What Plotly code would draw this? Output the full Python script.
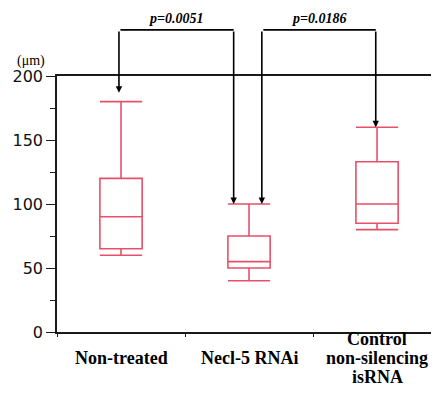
import plotly.graph_objects as go

# ---- data ----
categories = ["Non-treated", "Necl-5 RNAi", "Control non-silencing isRNA"]
category_label_lines = [["Non-treated"], ["Necl-5 RNAi"], ["Control", "non-silencing", "isRNA"]]
lower_whisker = [60, 40, 80]
q1 = [65, 50, 85]
median = [90, 55, 100]
q3 = [120, 75, 133]
upper_whisker = [180, 100, 160]
y_tick_values = [0, 50, 100, 150, 200]
y_max = 200
y_unit = "(μm)"
p_labels = ["p=0.0051", "p=0.0186"]
# comparisons: (left category index, right category index)
comparisons = [(0, 1), (1, 2)]
# arrow tips (value on y axis) for each bracket end
bracket_tips = [(187, 100), (100, 160)]
bracket_top = 236

BOX_COLOR = "#e8506a"
AXIS_COLOR = "#1a1a1a"

fig = go.Figure()
fig.add_trace(go.Box(
    x=categories,
    q1=q1, median=median, q3=q3,
    lowerfence=lower_whisker, upperfence=upper_whisker,
    boxpoints=False,
    width=0.33,
    whiskerwidth=1,
    line=dict(color=BOX_COLOR, width=1.6),
    fillcolor="rgba(255,255,255,0)",
    showlegend=False,
    hoverinfo="skip",
))

annotations = []
top_paper = bracket_top / y_max
# bracket x offsets relative to category centres
offsets = [(-0.016, -0.12), (0.10, -0.01)]
for (i, j), (tl, tr), (ol, orr), lab in zip(comparisons, bracket_tips, offsets, p_labels):
    xl = i + ol
    xr = j + orr
    for xx, tip in ((xl, tl), (xr, tr)):
        annotations.append(dict(x=xx, y=tip, xref="x", yref="y",
                                ax=xx, ay=bracket_top, axref="x", ayref="y",
                                text="", showarrow=True, arrowcolor="black",
                                arrowwidth=1.6, arrowhead=2, arrowsize=0.8,
                                standoff=0, startstandoff=0))
    annotations.append(dict(x=xr, y=top_paper, xref="x", yref="paper",
                            ax=xl, ay=0, axref="x", ayref="pixel",
                            text="", showarrow=True, arrowcolor="black",
                            arrowwidth=1.6, arrowhead=0,
                            standoff=0, startstandoff=0))
    annotations.append(dict(x=(xl + xr) / 2, y=top_paper, xref="x", yref="paper",
                            text="<b><i>" + lab + "</i></b>", showarrow=False,
                            yanchor="bottom", yshift=2,
                            font=dict(family="Liberation Serif", size=14, color="black")))

# category labels
for idx, lines in enumerate(category_label_lines):
    n = len(lines)
    for k, line in enumerate(lines):
        off = k - (n - 1) / 2
        annotations.append(dict(x=idx, y=0, xref="x", yref="paper",
                                text="<b>" + line + "</b>", showarrow=False,
                                yanchor="middle", yshift=-26 - 19 * off,
                                font=dict(family="Liberation Serif", size=18, color="black")))

# unit label
annotations.append(dict(x=0, y=1, xref="paper", yref="paper", text=y_unit,
                        showarrow=False, xanchor="right", yanchor="middle",
                        xshift=-10, yshift=15,
                        font=dict(family="Liberation Serif", size=14, color="black")))

# page body has an 8px default margin; size the figure to compensate
fig.update_layout(
    width=431, height=390,
    margin=dict(l=49, r=0, t=68, b=66, autoexpand=False),
    paper_bgcolor="white", plot_bgcolor="white",
    annotations=annotations,
    xaxis=dict(
        type="category", range=[-0.5, 2.484], automargin=False,
        showline=True, linecolor=AXIS_COLOR, linewidth=1.5, mirror=True,
        showgrid=False, zeroline=False,
        ticks="outside", tickson="boundaries", ticklen=3, tickcolor=AXIS_COLOR,
        showticklabels=False,
    ),
    yaxis=dict(
        range=[0, y_max], tickvals=y_tick_values, automargin=False,
        showline=True, linecolor=AXIS_COLOR, linewidth=1.5,
        showgrid=False, zeroline=False,
        ticks="outside", ticklen=9, tickcolor=AXIS_COLOR, tickwidth=1.2,
        minor=dict(dtick=25, ticks="outside", ticklen=5, tickcolor=AXIS_COLOR, tickwidth=1.2, showgrid=False),
        tickfont=dict(family="DejaVu Sans", size=16, color="#111"),
    ),
)

fig.write_html("out.html")
